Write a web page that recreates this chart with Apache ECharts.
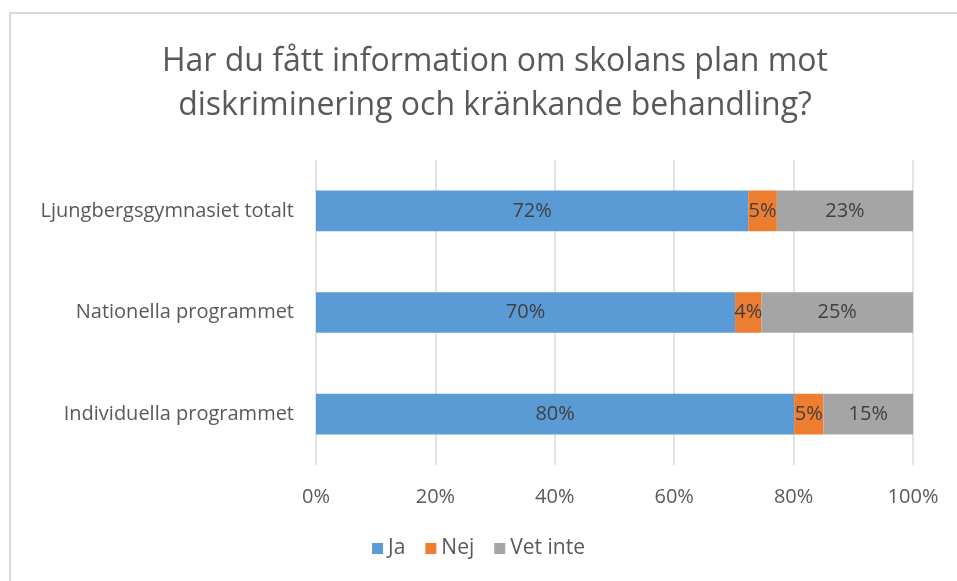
<!DOCTYPE html>
<html>
<head>
<meta charset="utf-8">
<script src="https://cdn.jsdelivr.net/npm/echarts@6/dist/echarts.min.js"></script>
<style>
  html, body { margin: 0; padding: 0; background: #fff; }
  #chart { position: absolute; left: 0; top: 0; width: 957px; height: 581px; }
  #frame { position: absolute; left: 9px; top: 12px; right: 0; bottom: 0;
           border-left: 2px solid #d9d9d9; border-top: 2px solid #d9d9d9; pointer-events: none; }
</style>
</head>
<body>
<div id="chart"></div>
<div id="frame"></div>
<script>
// Data (andel i procent)
const categories = ['Ljungbergsgymnasiet totalt', 'Nationella programmet', 'Individuella programmet'];
const ja = [72.4, 70.2, 80.1];
const nej = [4.8, 4.4, 4.9];
const vetInte = [22.8, 25.4, 15.0];
const seriesNames = ['Ja', 'Nej', 'Vet inte'];
const colors = ['#5b9bd5', '#ed7d31', '#a5a5a5'];

const font = '"Open Sans", sans-serif';
const chart = echarts.init(document.getElementById('chart'));

function makeSeries(name, data, color) {
    return {
        name: name, type: 'bar', stack: 'total', data: data,
        barWidth: '40%',
        itemStyle: { color: color },
        label: {
            show: true, position: 'inside', color: '#404040',
            fontFamily: font, fontSize: 20,
            formatter: p => Math.round(p.value) + '%'
        },
        emphasis: { disabled: true }
    };
}

chart.setOption({
    animation: false,
    title: {
        text: 'Har du fått information om skolans plan mot\ndiskriminering och kränkande behandling?',
        left: 490, top: 35, textAlign: 'center',
        textStyle: { fontFamily: font, fontSize: 32, fontWeight: 'normal', color: '#595959', lineHeight: 44 }
    },
    legend: {
        data: seriesNames, bottom: 17, left: 'center',
        itemWidth: 11, itemHeight: 11, itemGap: 20, icon: 'rect',
        textStyle: { fontFamily: font, fontSize: 21, color: '#595959' }
    },
    grid: { left: 316, right: 44, top: 160, bottom: 116 },
    xAxis: {
        type: 'value', min: 0, max: 100, interval: 20,
        axisLabel: { formatter: '{value}%', fontFamily: font, fontSize: 20, color: '#595959', margin: 22 },
        splitLine: { lineStyle: { color: '#d9d9d9', width: 1.5 } },
        axisLine: { show: false }, axisTick: { show: false }
    },
    yAxis: {
        type: 'category', data: categories, inverse: true,
        axisLabel: { fontFamily: font, fontSize: 20, color: '#595959', margin: 22 },
        axisLine: { show: false }, axisTick: { show: false }
    },
    series: [
        makeSeries(seriesNames[0], ja, colors[0]),
        makeSeries(seriesNames[1], nej, colors[1]),
        makeSeries(seriesNames[2], vetInte, colors[2])
    ]
});
</script>
</body>
</html>
